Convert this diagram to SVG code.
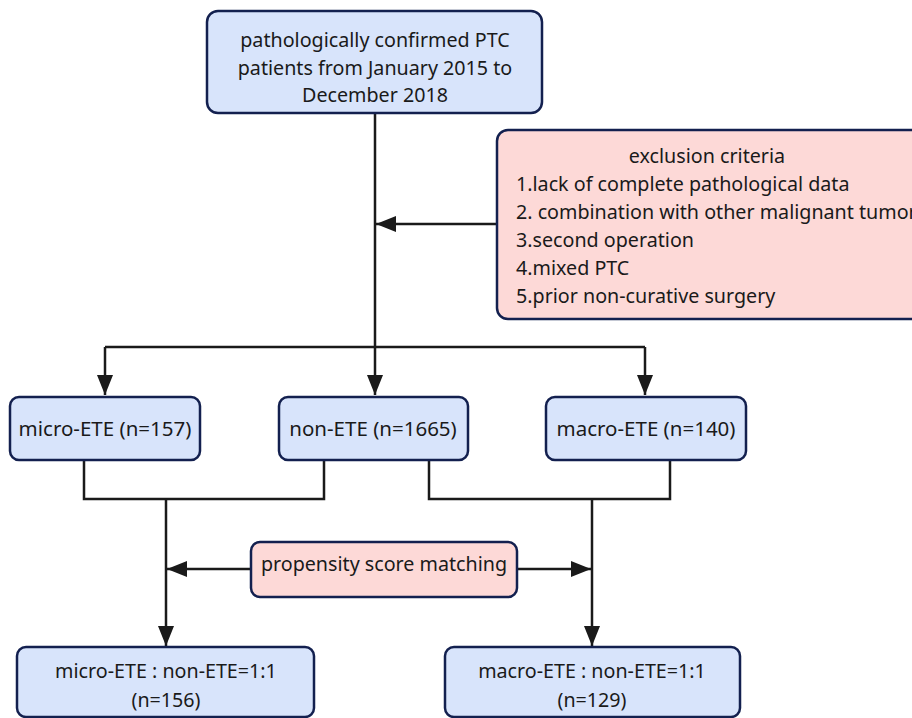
<svg xmlns="http://www.w3.org/2000/svg" width="912" height="718" viewBox="0 0 912 718">
<defs>
<style>
.blue{fill:#d8e4fb;stroke:#13204f;stroke-width:2.5}
.pink{fill:#fdd9d7;stroke:#13204f;stroke-width:2.5}
.t{font-family:"Noto Sans","Open Sans",sans-serif;font-size:19.7px;fill:#1a1a1a}
.m{font-size:20.5px}
.c{text-anchor:middle}
.ln{fill:none;stroke:#1a1a1a;stroke-width:2.5}
</style>
<marker id="a" viewBox="0 0 20 16" refX="20" refY="8" markerWidth="20" markerHeight="16" markerUnits="userSpaceOnUse" orient="auto">
<path d="M0,0 L20,8 L0,16 z" fill="#1a1a1a"/>
</marker>
</defs>
<rect width="912" height="718" fill="#ffffff"/>
<g id="connectors">
<path class="ln" d="M375,113 V395" marker-end="url(#a)"/>
<path class="ln" d="M497,224 H376" marker-end="url(#a)"/>
<path class="ln" d="M105,347 H645"/>
<path class="ln" d="M105,347 V395" marker-end="url(#a)"/>
<path class="ln" d="M645,347 V395" marker-end="url(#a)"/>
<path class="ln" d="M84,460 V499 H324 V460"/>
<path class="ln" d="M429,460 V499 H670 V460"/>
<path class="ln" d="M166,499 V646" marker-end="url(#a)"/>
<path class="ln" d="M592,499 V646" marker-end="url(#a)"/>
<path class="ln" d="M251,569 H167" marker-end="url(#a)"/>
<path class="ln" d="M517,569 H591" marker-end="url(#a)"/>
</g>
<g id="start">
<rect class="blue" x="207" y="11" width="335" height="102" rx="11"/>
<text class="t c" x="375" y="47">pathologically confirmed PTC</text>
<text class="t c" x="375" y="75">patients from January 2015 to</text>
<text class="t c" x="375" y="102">December 2018</text>
</g>
<g id="exclusion">
<rect class="pink" x="497" y="130" width="440" height="189" rx="11"/>
<text class="t c" x="707" y="163">exclusion criteria</text>
<text class="t" x="516" y="191">1.lack of complete pathological data</text>
<text class="t" x="516" y="219">2. combination with other malignant tumor</text>
<text class="t" x="516" y="247">3.second operation</text>
<text class="t" x="516" y="275">4.mixed PTC</text>
<text class="t" x="516" y="303">5.prior non-curative surgery</text>
</g>
<g id="micro">
<rect class="blue" x="10" y="397" width="190" height="63" rx="9"/>
<text class="t m c" x="105" y="436">micro-ETE (n=157)</text>
</g>
<g id="non">
<rect class="blue" x="279" y="397" width="189" height="63" rx="9"/>
<text class="t m c" x="373" y="436">non-ETE (n=1665)</text>
</g>
<g id="macro">
<rect class="blue" x="546" y="397" width="200" height="63" rx="9"/>
<text class="t m c" x="646" y="436">macro-ETE (n=140)</text>
</g>
<g id="psm">
<rect class="pink" x="251" y="542" width="266" height="55" rx="9"/>
<text class="t c" x="384" y="571">propensity score matching</text>
</g>
<g id="micro-match">
<rect class="blue" x="17" y="647" width="297" height="70" rx="9"/>
<text class="t c" x="166" y="678">micro-ETE : non-ETE=1:1</text>
<text class="t c" x="166" y="707">(n=156)</text>
</g>
<g id="macro-match">
<rect class="blue" x="445" y="647" width="295" height="70" rx="9"/>
<text class="t c" x="592" y="678">macro-ETE : non-ETE=1:1</text>
<text class="t c" x="592" y="707">(n=129)</text>
</g>
</svg>
